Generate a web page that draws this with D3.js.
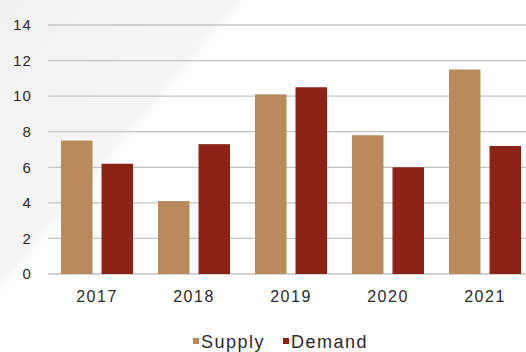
<!DOCTYPE html>
<html>
<head>
<meta charset="utf-8">
<script src="https://cdn.jsdelivr.net/npm/d3@7"></script>
<style>
  html, body { margin: 0; padding: 0; background: #ffffff; }
  svg { display: block; }
  text { font-family: "Liberation Sans", Arial, sans-serif; fill: #2b2b2b; }
</style>
</head>
<body>
<svg id="chart" width="526" height="352"></svg>
<script>
// Annual supply vs demand
const years = ["2017", "2018", "2019", "2020", "2021"];
const seriesNames = ["Supply", "Demand"];
const supply = [7.5, 4.1, 10.1, 7.8, 11.5];
const demand = [6.2, 7.3, 10.5, 6.0, 7.2];
const yTicks = [0, 2, 4, 6, 8, 10, 12, 14];
const colors = ["#b98a5c", "#8b2417"];

const svg = d3.select("#chart");
const W = 526, H = 352;

// faint diagonal backdrop in the upper-left corner
const defs = svg.append("defs");
const grad = defs.append("linearGradient").attr("id", "bgfade")
  .attr("x1", "0").attr("y1", "0").attr("x2", "1").attr("y2", "1");
grad.append("stop").attr("offset", "0").attr("stop-color", "#f1f1f1");
grad.append("stop").attr("offset", "1").attr("stop-color", "#fafafa");
defs.append("filter").attr("id", "soft")
  .append("feGaussianBlur").attr("stdDeviation", 3);
svg.append("path")
  .attr("d", "M-10,-10 L250,-10 L-10,300 Z")
  .attr("fill", "url(#bgfade)")
  .attr("filter", "url(#soft)");

const plot = { left: 48, right: 534, top: 25, bottom: 274 };

const x = d3.scaleBand().domain(years).range([plot.left + 0.5, plot.right - 0.5]).padding(0);
const xInner = d3.scaleBand().domain(seriesNames)
  .range([12.5, x.bandwidth() - 12.5]).paddingInner(0.222).paddingOuter(0);
const y = d3.scaleLinear().domain([0, 14]).range([plot.bottom, plot.top]);

// horizontal gridlines
svg.append("g")
  .selectAll("line")
  .data(yTicks)
  .join("line")
  .attr("x1", plot.left)
  .attr("x2", W)
  .attr("y1", d => y(d))
  .attr("y2", d => y(d))
  .attr("stroke", "#c4c4c4")
  .attr("stroke-width", 1.3);

// y axis labels
const yAxis = d3.axisLeft(y).tickValues(yTicks).tickSize(0).tickPadding(0);
const gy = svg.append("g").attr("transform", `translate(32,0)`).call(yAxis);
gy.select(".domain").remove();
gy.selectAll("text")
  .attr("font-size", 15)
  .attr("letter-spacing", "1.2px")
  .attr("fill", "#2b2b2b");

// bars
const rows = years.map((yr, i) => ({ year: yr, values: [supply[i], demand[i]] }));
const groups = svg.append("g")
  .selectAll("g")
  .data(rows)
  .join("g")
  .attr("transform", d => `translate(${x(d.year)},0)`);
groups.selectAll("rect")
  .data(d => d.values.map((v, k) => ({ key: seriesNames[k], value: v, k })))
  .join("rect")
  .attr("x", d => xInner(d.key))
  .attr("width", xInner.bandwidth())
  .attr("y", d => y(d.value))
  .attr("height", d => y(0) - y(d.value))
  .attr("fill", d => colors[d.k]);

// x axis labels
const xAxis = d3.axisBottom(x).tickSize(0).tickPadding(0);
const gx = svg.append("g").attr("transform", `translate(0,${plot.bottom + 17})`).call(xAxis);
gx.select(".domain").remove();
gx.selectAll("text")
  .attr("font-size", 16)
  .attr("letter-spacing", "1.5px")
  .attr("fill", "#2b2b2b");

// legend
const legend = svg.append("g").attr("transform", "translate(193,348)");
const legendX = [0, 90];
seriesNames.forEach((name, k) => {
  const g = legend.append("g").attr("transform", `translate(${legendX[k]},0)`);
  g.append("rect").attr("x", 0).attr("y", -10).attr("width", 6).attr("height", 6).attr("fill", colors[k]);
  g.append("text").attr("x", 8).attr("y", 0)
    .attr("font-size", 18).attr("letter-spacing", "1.5px").text(name);
});
</script>
</body>
</html>
